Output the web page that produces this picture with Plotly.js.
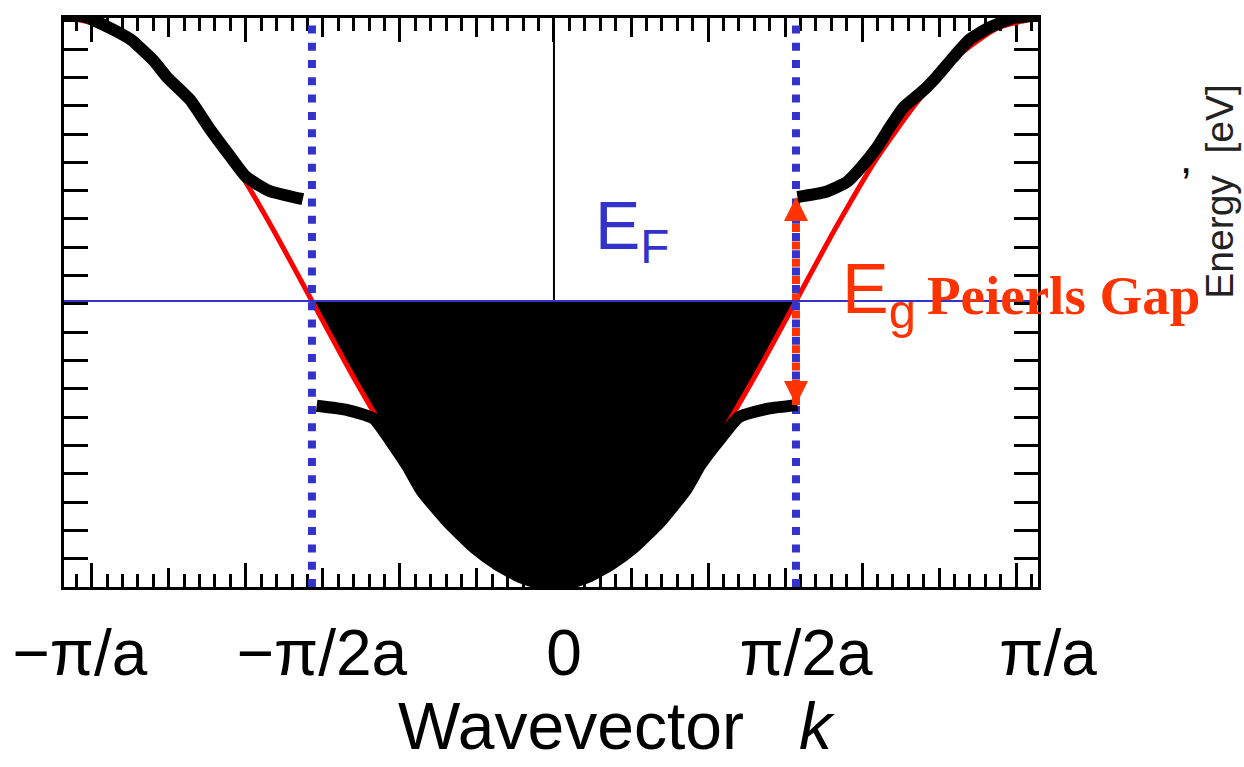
<!DOCTYPE html>
<html>
<head>
<meta charset="utf-8">
<script src="https://cdn.plot.ly/plotly-3.0.1.min.js"></script>
<style>html,body{margin:0;padding:0;background:#fff;}#chart{width:1244px;height:767px;}</style>
</head>
<body>
<div id="chart"></div>
<script>
// ---- data (k in units of 1/a, energy in arbitrary units, Fermi level = 0) ----
const kRange = [-3.18, 3.1416];
const eRange = [-2.02, 2.0];
const kHalf = 1.5708;          // pi/2a
const kFull = 3.1416;          // pi/a
const fermiE = 0;
const eTick0 = -0.02;          // energy tick origin (ticks sit just below E_F)

const tickVals = [-kFull, -kHalf, 0, kHalf, kFull];
const tickText = ['\u2212\u03c0/a', '\u2212\u03c0/2a', '0', '\u03c0/2a', '\u03c0/a'];
const halfTicks = [-2.5, -1.5, -0.5, 0.5, 1.5, 2.5];

// free-electron (red) band
const kFree = [-3.14,-2.88,-2.62,-2.36,-2.09,-1.83,-1.57,-1.31,-1.05,-0.79,-0.52,-0.26,0,0.26,0.52,0.79,1.05,1.31,1.57,1.83,2.09,2.36,2.62,2.88,3.14];
const eFree = [2.00,1.93,1.73,1.41,1.00,0.52,0.00,-0.52,-1.00,-1.41,-1.73,-1.93,-2.00,-1.93,-1.73,-1.41,-1.00,-0.52,0.00,0.52,1.00,1.41,1.73,1.93,2.00];

// gapped bands (black)
const kUpL = [-3.22,-3.05,-2.92,-2.75,-2.60,-2.51,-2.36,-2.23,-2.10,-2.00,-1.85,-1.63];
const eUpL = [2.02,2.01,1.95,1.85,1.70,1.58,1.42,1.21,1.02,0.88,0.78,0.72];
const kUpR = [1.58,1.76,1.90,1.99,2.10,2.18,2.27,2.40,2.48,2.59,2.70,2.82,2.98,3.16];
const eUpR = [0.735,0.77,0.84,0.94,1.09,1.23,1.37,1.49,1.58,1.72,1.85,1.93,2.00,2.02];
const kLow = [-1.54,-1.34,-1.17,-1.06,-0.95,-0.86,-0.69,-0.52,-0.37,-0.22,-0.05,0,0.05,0.22,0.37,0.52,0.69,0.86,0.95,1.09,1.20,1.39,1.58];
const eLow = [-0.74,-0.77,-0.83,-0.99,-1.17,-1.34,-1.56,-1.74,-1.86,-1.95,-2.01,-2.02,-2.01,-1.95,-1.86,-1.74,-1.56,-1.33,-1.16,-0.96,-0.82,-0.76,-0.735];

// ---- derived ----
const occK = [], occE = [];
kFree.forEach((k, i) => { if (Math.abs(k) <= kHalf + 1e-9) { occK.push(k); occE.push(eFree[i]); } });
const gapTop = eUpR[0];
const gapBottom = eLow[eLow.length - 1];

const BLUE = '#3333cc', ORANGE = '#ff3300', RED = '#ff0000';
const FONT = 'Liberation Sans, Arial, Helvetica, sans-serif';

const T = (o) => Object.assign({ hoverinfo: 'skip', showlegend: false }, o);

const traces = [
  T({ x: occK, y: occE, mode: 'lines', fill: 'tozeroy', fillcolor: '#000000', line: { width: 0, color: '#000000' } }),
  T({ x: kFree, y: eFree, mode: 'lines', line: { color: RED, width: 5, shape: 'spline', smoothing: 0.6 } }),
  T({ x: [-kHalf, -kHalf], y: [eRange[0], eRange[1]], mode: 'lines', line: { color: BLUE, width: 8, dash: '8px,9.3px' } }),
  T({ x: [kHalf, kHalf], y: [eRange[0], eRange[1]], mode: 'lines', line: { color: BLUE, width: 8, dash: '8px,9.3px' } }),
  T({ x: kUpL, y: eUpL, mode: 'lines', line: { color: '#000', width: 12, shape: 'spline', smoothing: 0.5 } }),
  T({ x: kUpR, y: eUpR, mode: 'lines', line: { color: '#000', width: 12, shape: 'spline', smoothing: 0.5 } }),
  T({ x: kLow, y: eLow, mode: 'lines', line: { color: '#000', width: 12, shape: 'spline', smoothing: 0.5 } }),
  T({ x: [kHalf, kHalf], y: [gapBottom, gapTop], mode: 'lines+markers',
      line: { color: ORANGE, width: 8, dash: '8px,9.3px' },
      marker: { symbol: ['arrow-down', 'arrow-up'], size: 24, color: ORANGE } }),
  // k = 0 line above the Fermi level (on the label axis)
  T({ xaxis: 'x2', x: [0, 0], y: [fermiE, eRange[1]], mode: 'lines', line: { color: '#000', width: 2 } }),
  // Fermi level (on the half-tick axis, drawn last)
  T({ xaxis: 'x3', x: kRange, y: [fermiE, fermiE], mode: 'lines', line: { color: BLUE, width: 2 } })
];

const baseX = { range: kRange, showgrid: false, zeroline: false, fixedrange: true, layer: 'below traces' };

const layout = {
  width: 1244, height: 767,
  margin: { l: 64, r: 206, t: 18, b: 180 },
  paper_bgcolor: '#ffffff', plot_bgcolor: '#ffffff',
  showlegend: false,
  font: { family: FONT, color: '#000' },
  xaxis: Object.assign({}, baseX, {
    tickmode: 'linear', tick0: 0, dtick: 1, ticks: 'inside', ticklen: 24, tickwidth: 3, tickcolor: '#000',
    minor: { tickmode: 'linear', tick0: 0, dtick: 0.1, ticks: 'inside', ticklen: 13, tickwidth: 3, tickcolor: '#000' },
    showticklabels: false, showline: true, linecolor: '#000', linewidth: 3, mirror: 'allticks'
  }),
  xaxis2: Object.assign({}, baseX, {
    overlaying: 'x', anchor: 'y', side: 'bottom', matches: 'x',
    tickmode: 'array', tickvals: tickVals, ticktext: tickText, ticks: '',
    ticklabelstandoff: 23, ticklabeloverflow: 'allow', ticklabelshift: 10,
    tickfont: { family: FONT, size: 64, color: '#000' },
    showline: false
  }),
  xaxis3: Object.assign({}, baseX, {
    overlaying: 'x', anchor: 'y', side: 'bottom', matches: 'x',
    tickmode: 'array', tickvals: halfTicks, ticks: 'inside', ticklen: 19, tickwidth: 3, tickcolor: '#000',
    showticklabels: false, showline: false, mirror: 'allticks'
  }),
  yaxis: {
    range: eRange, showgrid: false, zeroline: false, fixedrange: true, layer: 'below traces',
    tickmode: 'linear', tick0: eTick0, dtick: 1, ticks: 'inside', ticklen: 24, tickwidth: 3, tickcolor: '#000',
    minor: { tickmode: 'linear', tick0: eTick0, dtick: 0.2, ticks: 'inside', ticklen: 11, tickwidth: 3, tickcolor: '#000' },
    showticklabels: false, showline: true, linecolor: '#000', linewidth: 3, mirror: 'allticks'
  },
  annotations: [
    { xref: 'paper', yref: 'paper', x: 0.543, y: 0.627, xanchor: 'left', yanchor: 'middle', showarrow: false,
      text: 'E<sub>F</sub>', font: { family: FONT, size: 68, color: BLUE } },
    { xref: 'paper', yref: 'paper', x: 0.797, y: 0.515, xanchor: 'left', yanchor: 'middle', showarrow: false,
      text: 'E<sub>g</sub>', font: { family: FONT, size: 70, color: ORANGE } },
    { xref: 'paper', yref: 'paper', x: 0.884, y: 0.512, xanchor: 'left', yanchor: 'middle', showarrow: false,
      text: '<b>Peierls Gap</b>', font: { family: 'Liberation Serif, Times New Roman, serif', size: 55, color: ORANGE } },
    { xref: 'paper', yref: 'paper', x: 1.186, y: 0.695, xanchor: 'center', yanchor: 'middle', showarrow: false,
      textangle: -90, text: 'Energy&nbsp;&nbsp;[eV]', font: { family: FONT, size: 39, color: '#222' } },
    { xref: 'paper', yref: 'paper', x: 1.152, y: 0.755, xanchor: 'center', yanchor: 'middle', showarrow: false,
      text: ',', font: { family: FONT, size: 44, color: '#000' } },
    { xref: 'paper', yref: 'paper', x: 0.567, y: -0.245, xanchor: 'center', yanchor: 'middle', showarrow: false,
      text: 'Wavevector&nbsp;&nbsp;&nbsp;<i>k</i>', font: { family: FONT, size: 66, color: '#000' } }
  ]
};

Plotly.newPlot('chart', traces, layout, { displayModeBar: false, staticPlot: true });
</script>
</body>
</html>
